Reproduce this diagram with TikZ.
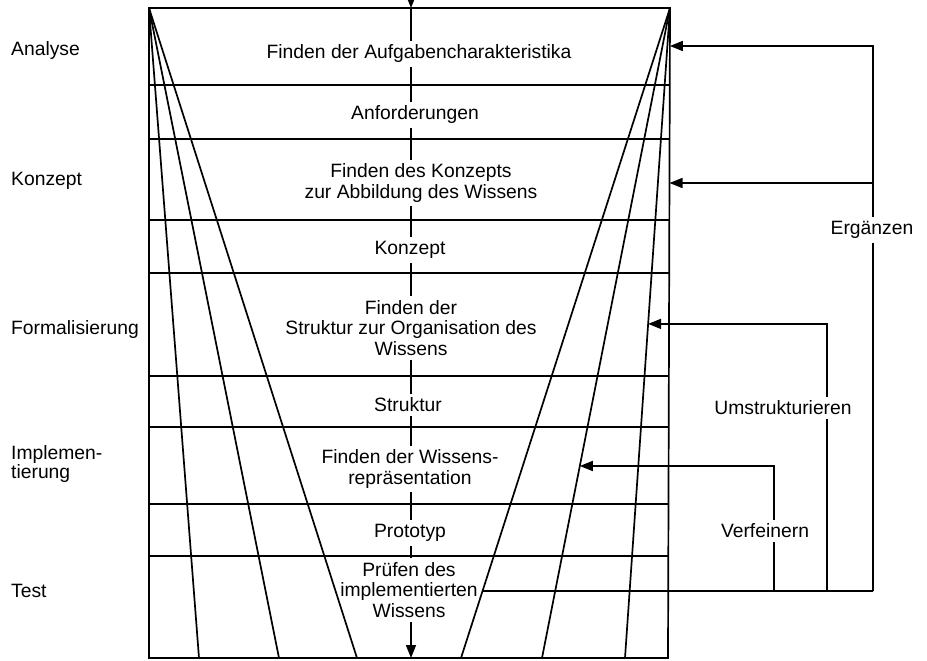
\documentclass[tikz,border=0pt]{standalone}
\usepackage{fontspec}
\setmainfont{Liberation Sans}
\usetikzlibrary{arrows.meta,calc}
\begin{document}
\begin{tikzpicture}[x=1pt,y=-1pt,
  ln/.style={line width=1.7pt},
  arr/.style={ln,-{Triangle[length=13pt,width=10pt]}},
  stage/.style={align=center,inner sep=4pt,font=\fontsize{19.3}{20.5}\selectfont},
  phase/.style={anchor=west,align=left,inner sep=0pt,font=\fontsize{19.3}{19.5}\selectfont},
  fblabel/.style={inner sep=4pt,font=\fontsize{19.3}{20.5}\selectfont}]
\useasboundingbox[fill=white] (0,0) rectangle (927,661);

% frame
\coordinate (TL) at (149,8);
\coordinate (TR) at (670,8);
\coordinate (BL) at (149,658);
\coordinate (BR) at (668,658);
\draw[ln] (TL) -- (TR) -- (BR) -- (BL) -- cycle;
\foreach \y in {85,139,220,273,376,427,504,556}
  \draw[ln] (149,\y) -- (669,\y);

% fans
\coordinate (L1) at (199,658);
\coordinate (L2) at (279,658);
\coordinate (L3) at (357,658);
\coordinate (R1) at (461,658);
\coordinate (R2) at (542,658);
\coordinate (R3) at (625,658);
\foreach \p in {L1,L2,L3} \draw[ln] (TL) -- (\p);
\foreach \p in {R1,R2,R3} \draw[ln] (TR) -- (\p);

% stage texts
\node[stage] (t1) at (419,54) {Finden der Aufgabencharakteristika};
\node[stage] (t2) at (415,115) {Anforderungen};
\node[stage] (t3) at (421,183) {Finden des Konzepts\\zur Abbildung des Wissens};
\node[stage] (t4) at (410,250) {Konzept};
\node[stage] (t5) at (411,328) {Finden der\\Struktur zur Organisation des\\Wissens};
\node[stage] (t6) at (408,405) {Struktur};
\node[stage] (t7) at (410,469) {Finden der Wissens-\\repräsentation};
\node[stage] (t8) at (410,533) {Prototyp};
\node[stage] (t9) at (409,590) {Prüfen des\\implementierten\\Wissens};

% central flow line
\coordinate (ctop) at (411,-8);
\draw[arr] (ctop) -- (ctop |- TL);
\draw[ln] (ctop |- TL) -- (t1.north -| ctop);
\foreach \a/\b in {t1/t2,t2/t3,t3/t4,t4/t5,t5/t6,t6/t7,t7/t8,t8/t9}
  \draw[ln] (\a.south -| ctop) -- (\b.north -| ctop);
\draw[arr] (t9.south -| ctop) -- (ctop |- BL);

% phase labels
\node[phase] (pA) at (11,51) {Analyse};
\node[phase] (pK) at (11,181) {Konzept};
\node[phase] (pF) at (11,330) {Formalisierung};
\node[phase] (pI) at (11,464) {Implemen-\\tierung};
\node[phase] (pT) at (11,591) {Test};

% feedback loops
\coordinate (fbS) at ($(TR)!0.8969!(R1)$);
\coordinate (vX) at (774,591);
\coordinate (uX) at (827,591);
\coordinate (eX) at (873,591);
\draw[ln] (fbS) -- (eX);

\node[fblabel] (erg) at (872,230) {Ergänzen};
\node[fblabel] (ums) at (783,408) {Umstrukturieren};
\node[fblabel] (ver) at (765,531) {Verfeinern};

\coordinate (eTip1) at (669.9,46);
\coordinate (eTip2) at (669.5,183);
\coordinate (eMid) at (873,183);
\draw[ln] (eX) -- (erg.south -| eX);
\draw[arr] (erg.north -| eX) |- (eTip1);
\draw[arr] (eMid) -- (eTip2);

\coordinate (uTip) at ($(TR)!0.486!(R3)$);
\draw[ln] (uX) -- (ums.south -| uX);
\draw[arr] (ums.north -| uX) |- (uTip);

\coordinate (vTip) at ($(TR)!0.7046!(R2)$);
\draw[ln] (vX) -- (ver.south -| vX);
\draw[arr] (ver.north -| vX) |- (vTip);
\end{tikzpicture}
\end{document}
